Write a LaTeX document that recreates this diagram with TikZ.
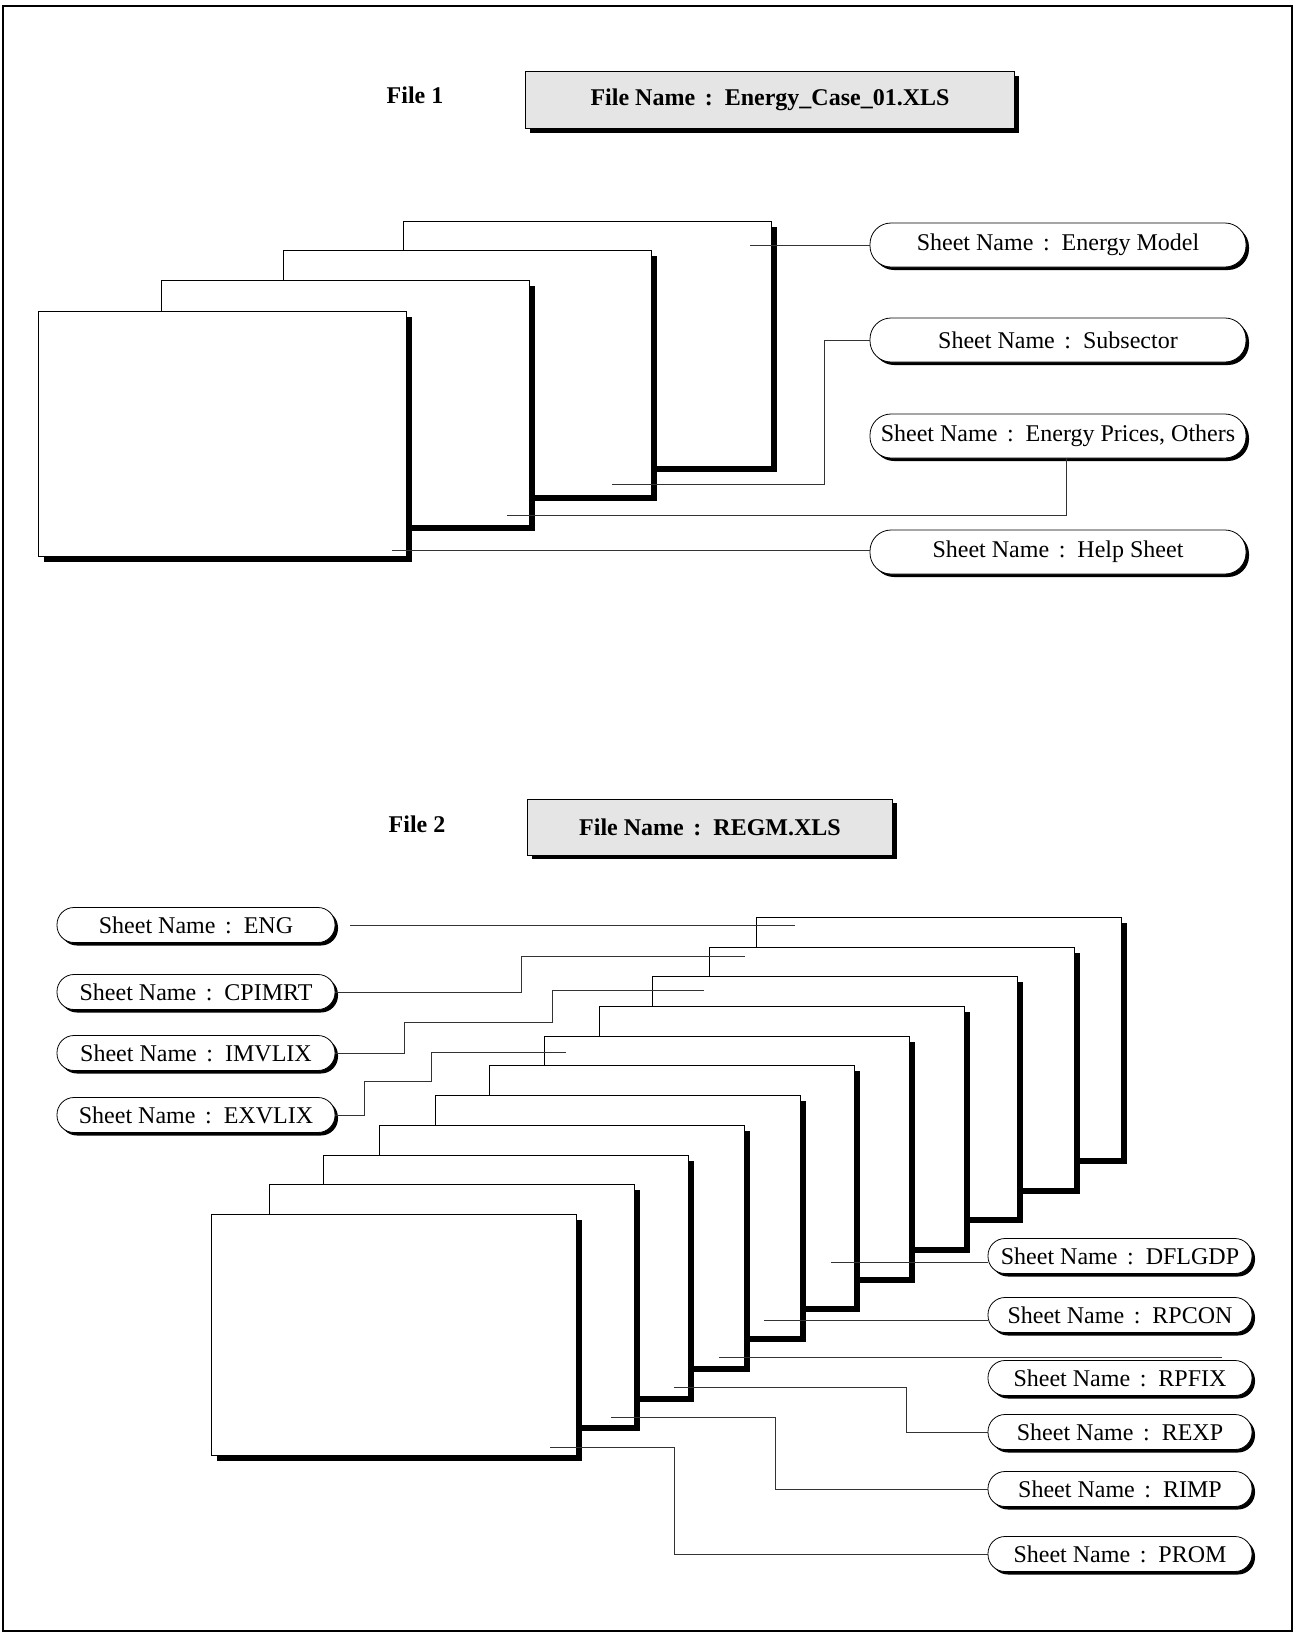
\documentclass[tikz,border=0pt]{standalone}
\usepackage{fontspec}
\setmainfont{Liberation Serif}
\usetikzlibrary{shadows,calc}
\newcommand{\cln}{\hspace{0.4em}:\hspace{0.5em}}
\begin{document}
\begin{tikzpicture}[x=1pt,y=-1pt,
  sheetbox/.style={draw, fill=white, line width=1.3pt, inner sep=0pt, anchor=north west,
    drop shadow={shadow xshift=5pt, shadow yshift=-5pt, opacity=1, fill=black}},
  sheetA/.style={sheetbox, minimum width=368pt, minimum height=245pt},
  sheetB/.style={sheetbox, minimum width=365pt, minimum height=241pt},
  pill/.style={draw, fill=white, line width=0.8pt, inner sep=0pt,
    font=\fontsize{24}{28}\selectfont,
    drop shadow={shadow xshift=3pt, shadow yshift=-3pt, opacity=1, fill=black}},
  pillA/.style={pill, minimum width=376pt, minimum height=44pt, rounded corners=21pt},
  pillB/.style={pill, minimum width=278pt, minimum height=35pt, rounded corners=17pt},
  pillC/.style={pill, minimum width=264pt, minimum height=35pt, rounded corners=17pt},
  fnamebox/.style={draw, fill=black!10, line width=1pt, inner sep=0pt,
    font=\bfseries\fontsize{24}{28}\selectfont,
    drop shadow={shadow xshift=4pt, shadow yshift=-4pt, opacity=1, fill=black}},
  flabel/.style={font=\bfseries\fontsize{24}{28}\selectfont, inner sep=0pt},
  conn/.style={draw=black!80, line width=0.9pt}
]
\useasboundingbox (0,0) rectangle (1295,1634);
\fill[white] (0,0) rectangle (1295,1634);
\draw[line width=1.5pt] (3,6) rectangle (1292,1631);

% ---------- File 1 ----------
\node[flabel] (f1) at (415,95) {File 1};
\node[fnamebox, minimum width=489pt, minimum height=57pt] (fn1) at (770,100) {File Name\cln Energy\_Case\_01.XLS};

\node[sheetA] (sa) at (403,221) {};
\node[sheetA] (sb) at (283,250) {};
\node[sheetA] (sc) at (161,280) {};
\node[sheetA] (sd) at (38,311) {};

\node[pillA] (em) at (1058,245) {Sheet Name\cln Energy Model};
\node[pillA] (sub) at (1058,340) {Sheet Name\cln Subsector};
\node[pillA] (pr) at (1058,436) {Sheet Name\cln Energy Prices, Others};
\node[pillA] (hl) at (1058,552) {Sheet Name\cln Help Sheet};

\coordinate (emc) at (750,245);
\coordinate (subc) at (612,484);
\coordinate (prc) at (507,515);
\coordinate (hlc) at (392,550);

\draw[conn] (emc) -- (emc -| em.west);
\draw[conn] (subc) -| ([xshift=-45pt]sub.west) -- (sub.west);
\draw[conn] (prc) -| ([xshift=8pt]pr.south);
\draw[conn] (hlc) -- (hlc -| hl.west);

% ---------- File 2 ----------
\node[flabel] (f2) at (417,824) {File 2};
\node[fnamebox, minimum width=365pt, minimum height=56pt] (fn2) at (710,827) {File Name\cln REGM.XLS};

\node[sheetB] (t1) at (756,917) {};
\node[sheetB] (t2) at (709,947) {};
\node[sheetB] (t3) at (652,976) {};
\node[sheetB] (t4) at (599,1006) {};
\node[sheetB] (t5) at (544,1036) {};
\node[sheetB] (t6) at (489,1065) {};
\node[sheetB] (t7) at (435,1095) {};
\node[sheetB] (t8) at (379,1125) {};
\node[sheetB] (t9) at (323,1155) {};
\node[sheetB] (t10) at (269,1184) {};
\node[sheetB] (t11) at (211,1214) {};

\node[pillB] (eng) at (196,925) {Sheet Name\cln ENG};
\node[pillB] (cpi) at (196,992) {Sheet Name\cln CPIMRT};
\node[pillB] (imv) at (196,1053) {Sheet Name\cln IMVLIX};
\node[pillB] (exv) at (196,1115) {Sheet Name\cln EXVLIX};

\node[pillC] (dfl) at (1120,1256) {Sheet Name\cln DFLGDP};
\node[pillC] (rpc) at (1120,1315) {Sheet Name\cln RPCON};
\node[pillC] (rpf) at (1120,1378) {Sheet Name\cln RPFIX};
\node[pillC] (rex) at (1120,1432) {Sheet Name\cln REXP};
\node[pillC] (rim) at (1120,1489) {Sheet Name\cln RIMP};
\node[pillC] (pro) at (1120,1554) {Sheet Name\cln PROM};

\coordinate (engc) at (795,925);
\coordinate (cpic) at (745,956);
\coordinate (imvc) at (704,990);
\coordinate (exvc) at (566,1052);
\coordinate (dflc) at (831,1262);
\coordinate (rpcc) at (764,1320);
\coordinate (rpfc) at (719,1357);
\coordinate (rexc) at (674,1387);
\coordinate (rimc) at (611,1417);
\coordinate (proc) at (550,1447);

\draw[conn, shorten <=15pt] (eng.east) -- (engc);
\draw[conn] (cpi.east) -| ($(cpic)+(-224,0)$) -- (cpic);
\draw[conn] (imv.east) -| (404,1022) -| (552,990) -- (imvc);
\draw[conn] (exv.east) -| (364,1081) -| (431,1052) -- (exvc);

\draw[conn] (dflc) -- (dflc -| dfl.west);
\draw[conn] (rpcc) -- (rpcc -| rpc.west);
\draw[conn, shorten >=30pt] (rpfc) -- (rpfc -| rpf.east);
\draw[conn] (rexc) -| ([xshift=-81pt]rex.west) -- (rex.west);
\draw[conn] (rimc) -| ([xshift=-212pt]rim.west) -- (rim.west);
\draw[conn] (proc) -| ([xshift=-313pt]pro.west) -- (pro.west);
\end{tikzpicture}
\end{document}
